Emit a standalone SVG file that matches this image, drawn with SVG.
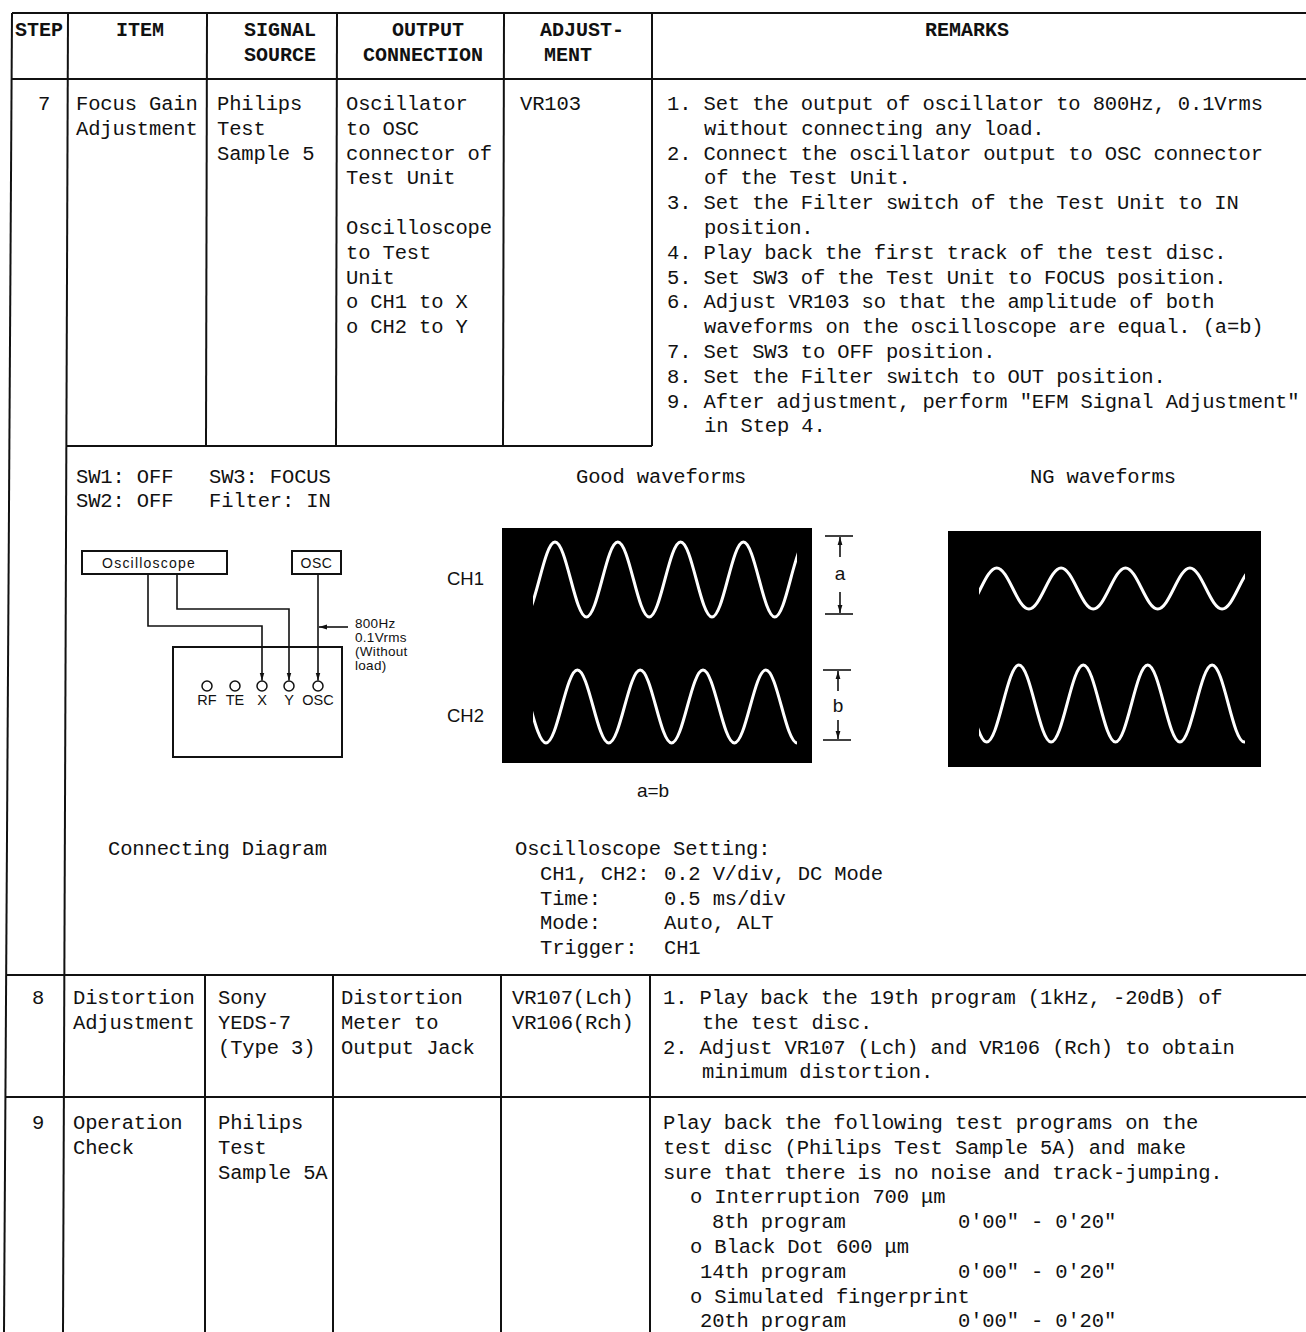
<svg xmlns="http://www.w3.org/2000/svg" width="1306" height="1332" viewBox="0 0 1306 1332">
<style>
.t{font-family:"Liberation Mono","DejaVu Sans Mono",monospace;font-size:20.5px;letter-spacing:-0.14px;fill:#111}
.h{font-family:"Liberation Mono","DejaVu Sans Mono",monospace;font-size:20px;font-weight:bold;fill:#111}
.s{font-family:"Liberation Sans","DejaVu Sans",Arial,sans-serif;fill:#111}
.ln{stroke:#111;stroke-width:2;fill:none}
.thin{stroke:#111;stroke-width:1.6;fill:none}
.w{stroke:#fff;stroke-width:3;fill:none;stroke-linecap:round}
.c{fill:#fff;stroke:#111;stroke-width:1.5}
</style>
<defs>
<marker id="ah" viewBox="0 0 10 10" refX="10" refY="5" markerWidth="8" markerHeight="8" markerUnits="userSpaceOnUse" orient="auto"><path d="M0,2 L10,5 L0,8 z" fill="#111"/></marker>
<clipPath id="cg"><rect x="533" y="528" width="264" height="235"/></clipPath>
<clipPath id="cn"><rect x="979" y="531" width="266" height="236"/></clipPath>
</defs>
<rect width="1306" height="1332" fill="#fff"/>

<g id="table-grid">
<line class="ln" x1="12" y1="13" x2="4" y2="1332"/>
<line class="ln" x1="12" y1="13" x2="1306" y2="13"/>
<line class="ln" x1="12" y1="79" x2="1306" y2="79"/>
<line class="ln" x1="68" y1="13" x2="63" y2="1332"/>
<line class="ln" x1="207" y1="13" x2="206" y2="446"/>
<line class="ln" x1="337" y1="13" x2="336" y2="446"/>
<line class="ln" x1="504" y1="13" x2="503" y2="446"/>
<line class="ln" x1="652" y1="13" x2="652" y2="446"/>
<line class="ln" x1="67" y1="446" x2="652" y2="446"/>
<line class="ln" x1="7" y1="975" x2="1306" y2="975"/>
<line class="ln" x1="6" y1="1097" x2="1306" y2="1097"/>
<line class="ln" x1="205" y1="975" x2="205" y2="1332"/>
<line class="ln" x1="333" y1="975" x2="333" y2="1332"/>
<line class="ln" x1="501" y1="975" x2="501" y2="1332"/>
<line class="ln" x1="650" y1="975" x2="650" y2="1332"/>
</g>

<g id="header">
<text class="h" x="39" y="36" text-anchor="middle">STEP</text>
<text class="h" x="140" y="36" text-anchor="middle">ITEM</text>
<text class="h" x="280" y="36" text-anchor="middle">SIGNAL</text>
<text class="h" x="280" y="61" text-anchor="middle">SOURCE</text>
<text class="h" x="428" y="36" text-anchor="middle">OUTPUT</text>
<text class="h" x="423" y="61" text-anchor="middle">CONNECTION</text>
<text class="h" x="540" y="36">ADJUST-</text>
<text class="h" x="544" y="61">MENT</text>
<text class="h" x="967" y="36" text-anchor="middle">REMARKS</text>
</g>

<g id="step7">
<text class="t" x="38" y="110">7</text>
<text class="t" x="76" y="110">Focus Gain</text>
<text class="t" x="76" y="134.8">Adjustment</text>
<text class="t" x="217" y="110">Philips</text>
<text class="t" x="217" y="134.8">Test</text>
<text class="t" x="217" y="159.6">Sample 5</text>
<text class="t" x="346" y="110">Oscillator</text>
<text class="t" x="346" y="134.8">to OSC</text>
<text class="t" x="346" y="159.6">connector of</text>
<text class="t" x="346" y="184.4">Test Unit</text>
<text class="t" x="346" y="234">Oscilloscope</text>
<text class="t" x="346" y="258.8">to Test</text>
<text class="t" x="346" y="283.6">Unit</text>
<text class="t" x="346" y="308.4">o CH1 to X</text>
<text class="t" x="346" y="333.2">o CH2 to Y</text>
<text class="t" x="520" y="110">VR103</text>
<text class="t" x="667" y="110">1. Set the output of oscillator to 800Hz, 0.1Vrms</text>
<text class="t" x="704" y="134.8">without connecting any load.</text>
<text class="t" x="667" y="159.6">2. Connect the oscillator output to OSC connector</text>
<text class="t" x="704" y="184.4">of the Test Unit.</text>
<text class="t" x="667" y="209.2">3. Set the Filter switch of the Test Unit to IN</text>
<text class="t" x="704" y="234">position.</text>
<text class="t" x="667" y="258.8">4. Play back the first track of the test disc.</text>
<text class="t" x="667" y="283.6">5. Set SW3 of the Test Unit to FOCUS position.</text>
<text class="t" x="667" y="308.4">6. Adjust VR103 so that the amplitude of both</text>
<text class="t" x="704" y="333.2">waveforms on the oscilloscope are equal. (a=b)</text>
<text class="t" x="667" y="358">7. Set SW3 to OFF position.</text>
<text class="t" x="667" y="382.8">8. Set the Filter switch to OUT position.</text>
<text class="t" x="667" y="407.6">9. After adjustment, perform "EFM Signal Adjustment"</text>
<text class="t" x="704" y="432.4">in Step 4.</text>
<text class="t" x="76" y="483">SW1: OFF</text>
<text class="t" x="209" y="483">SW3: FOCUS</text>
<text class="t" x="76" y="507">SW2: OFF</text>
<text class="t" x="209" y="507">Filter: IN</text>
<text class="t" x="576" y="483">Good waveforms</text>
<text class="t" x="1030" y="483">NG waveforms</text>
<text class="t" x="108" y="855">Connecting Diagram</text>
<text class="t" x="515" y="855">Oscilloscope Setting:</text>
<text class="t" x="540" y="879.8">CH1, CH2:</text>
<text class="t" x="664" y="879.8">0.2 V/div, DC Mode</text>
<text class="t" x="540" y="904.6">Time:</text>
<text class="t" x="664" y="904.6">0.5 ms/div</text>
<text class="t" x="540" y="929.4">Mode:</text>
<text class="t" x="664" y="929.4">Auto, ALT</text>
<text class="t" x="540" y="954.2">Trigger:</text>
<text class="t" x="664" y="954.2">CH1</text>
</g>

<g id="connecting-diagram">
<g id="oscilloscope-box">
<rect class="ln" x="82" y="551" width="145" height="23"/>
<text class="s" x="149" y="567.5" font-size="14" letter-spacing="1.2" text-anchor="middle">Oscilloscope</text>
</g>
<g id="osc-box">
<rect class="ln" x="292" y="551" width="49" height="23"/>
<text class="s" x="316.5" y="567.5" font-size="14" letter-spacing="0.6" text-anchor="middle">OSC</text>
</g>
<g id="test-unit">
<rect class="ln" x="173" y="647" width="169" height="110"/>
<circle class="c" cx="207" cy="686" r="5"/>
<circle class="c" cx="235" cy="686" r="5"/>
<circle class="c" cx="262" cy="686" r="5"/>
<circle class="c" cx="289" cy="686" r="5"/>
<circle class="c" cx="318" cy="686" r="5"/>
<g class="s" font-size="14.5" text-anchor="middle">
<text x="207" y="705">RF</text>
<text x="235" y="705">TE</text>
<text x="262" y="705">X</text>
<text x="289" y="705">Y</text>
<text x="318" y="705">OSC</text>
</g>
</g>
<g id="osc-label" class="s" font-size="13.5" letter-spacing="0.3">
<text x="355" y="628">800Hz</text>
<text x="355" y="642">0.1Vrms</text>
<text x="355" y="656">(Without</text>
<text x="355" y="670">load)</text>
</g>
</g>

<g id="connectors">
<polyline class="thin" points="148,574 148,626 262,626 262,680.5" marker-end="url(#ah)"/>
<polyline class="thin" points="177,574 177,609 289,609 289,680.5" marker-end="url(#ah)"/>
<polyline class="thin" points="318,574 318,680.5" marker-end="url(#ah)"/>
<line class="thin" x1="348" y1="627" x2="319" y2="627" marker-end="url(#ah)"/>
</g>

<g id="good-waveforms">
<rect x="502" y="528" width="310" height="235" fill="#000"/>
<g clip-path="url(#cg)">
<path class="w" d="M523.6,617 c11.41,0 19.99,-75 31.4,-75 c11.41,0 19.99,75 31.4,75 c11.41,0 19.99,-75 31.4,-75 c11.41,0 19.99,75 31.4,75 c11.41,0 19.99,-75 31.4,-75 c11.41,0 19.99,75 31.4,75 c11.41,0 19.99,-75 31.4,-75 c11.41,0 19.99,75 31.4,75 c11.41,0 19.99,-75 31.4,-75"/>
<path class="w" d="M514.6,670 c11.41,0 19.99,73 31.4,73 c11.41,0 19.99,-73 31.4,-73 c11.41,0 19.99,73 31.4,73 c11.41,0 19.99,-73 31.4,-73 c11.41,0 19.99,73 31.4,73 c11.41,0 19.99,-73 31.4,-73 c11.41,0 19.99,73 31.4,73 c11.41,0 19.99,-73 31.4,-73 c11.41,0 19.99,73 31.4,73 c11.41,0 19.99,-73 31.4,-73"/>
</g>
<text class="s" x="447" y="585" font-size="18.5">CH1</text>
<text class="s" x="447" y="722" font-size="18.5">CH2</text>
<line class="thin" x1="825" y1="536" x2="853" y2="536"/>
<line class="thin" x1="825" y1="614" x2="853" y2="614"/>
<line class="thin" x1="840" y1="557" x2="840" y2="537" marker-end="url(#ah)"/>
<line class="thin" x1="840" y1="592" x2="840" y2="613" marker-end="url(#ah)"/>
<text class="s" x="840" y="580" font-size="19" text-anchor="middle">a</text>
<line class="thin" x1="823" y1="670" x2="851" y2="670"/>
<line class="thin" x1="823" y1="740" x2="851" y2="740"/>
<line class="thin" x1="838" y1="691" x2="838" y2="671" marker-end="url(#ah)"/>
<line class="thin" x1="838" y1="720" x2="838" y2="739" marker-end="url(#ah)"/>
<text class="s" x="838" y="712" font-size="19" text-anchor="middle">b</text>
<text class="s" x="653" y="797" font-size="19" text-anchor="middle">a=b</text>
</g>

<g id="ng-waveforms">
<rect x="948" y="531" width="313" height="236" fill="#000"/>
<g clip-path="url(#cn)">
<path class="w" d="M964.5,609 c11.7,0 20.5,-41 32.2,-41 c11.7,0 20.5,41 32.2,41 c11.7,0 20.5,-41 32.2,-41 c11.7,0 20.5,41 32.2,41 c11.7,0 20.5,-41 32.2,-41 c11.7,0 20.5,41 32.2,41 c11.7,0 20.5,-41 32.2,-41 c11.7,0 20.5,41 32.2,41 c11.7,0 20.5,-41 32.2,-41"/>
<path class="w" d="M954.5,665 c11.7,0 20.5,77 32.2,77 c11.7,0 20.5,-77 32.2,-77 c11.7,0 20.5,77 32.2,77 c11.7,0 20.5,-77 32.2,-77 c11.7,0 20.5,77 32.2,77 c11.7,0 20.5,-77 32.2,-77 c11.7,0 20.5,77 32.2,77 c11.7,0 20.5,-77 32.2,-77 c11.7,0 20.5,77 32.2,77 c11.7,0 20.5,-77 32.2,-77"/>
</g>
</g>

<g id="step8">
<text class="t" x="32" y="1004">8</text>
<text class="t" x="73" y="1004">Distortion</text>
<text class="t" x="73" y="1028.8">Adjustment</text>
<text class="t" x="218" y="1004">Sony</text>
<text class="t" x="218" y="1028.8">YEDS-7</text>
<text class="t" x="218" y="1053.6">(Type 3)</text>
<text class="t" x="341" y="1004">Distortion</text>
<text class="t" x="341" y="1028.8">Meter to</text>
<text class="t" x="341" y="1053.6">Output Jack</text>
<text class="t" x="512" y="1004">VR107(Lch)</text>
<text class="t" x="512" y="1028.8">VR106(Rch)</text>
<text class="t" x="663" y="1004">1. Play back the 19th program (1kHz, -20dB) of</text>
<text class="t" x="702" y="1028.8">the test disc.</text>
<text class="t" x="663" y="1053.6">2. Adjust VR107 (Lch) and VR106 (Rch) to obtain</text>
<text class="t" x="702" y="1078.4">minimum distortion.</text>
</g>

<g id="step9">
<text class="t" x="32" y="1129">9</text>
<text class="t" x="73" y="1129">Operation</text>
<text class="t" x="73" y="1153.8">Check</text>
<text class="t" x="218" y="1129">Philips</text>
<text class="t" x="218" y="1153.8">Test</text>
<text class="t" x="218" y="1178.6">Sample 5A</text>
<text class="t" x="663" y="1129">Play back the following test programs on the</text>
<text class="t" x="663" y="1153.8">test disc (Philips Test Sample 5A) and make</text>
<text class="t" x="663" y="1178.6">sure that there is no noise and track-jumping.</text>
<text class="t" x="690" y="1203.4">o Interruption 700 μm</text>
<text class="t" x="712" y="1228.2">8th program</text>
<text class="t" x="958" y="1228.2">0'00" - 0'20"</text>
<text class="t" x="690" y="1253">o Black Dot 600 μm</text>
<text class="t" x="700" y="1277.8">14th program</text>
<text class="t" x="958" y="1277.8">0'00" - 0'20"</text>
<text class="t" x="690" y="1302.6">o Simulated fingerprint</text>
<text class="t" x="700" y="1327.4">20th program</text>
<text class="t" x="958" y="1327.4">0'00" - 0'20"</text>
</g>
</svg>
